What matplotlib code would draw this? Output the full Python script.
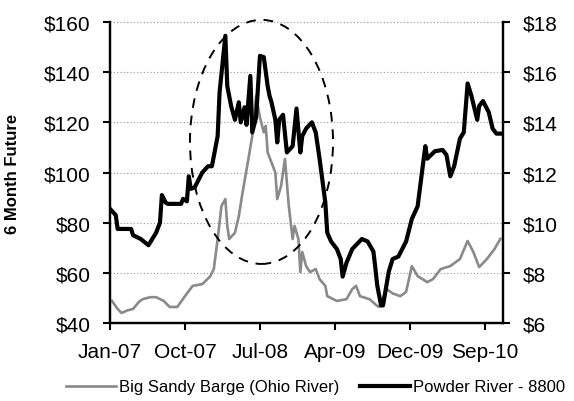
import matplotlib.pyplot as plt
from matplotlib.patches import Ellipse

# week index from Jan-07 (weekly price series)
tick_weeks = [0, 39, 78, 117, 156, 195]
tick_labels = ['Jan-07', 'Oct-07', 'Jul-08', 'Apr-09', 'Dec-09', 'Sep-10']

# Big Sandy Barge (Ohio River), $/ton, left axis
sandy_weeks = [1, 4, 6, 9, 12, 15, 17, 21, 24, 28, 31, 35, 39, 43, 48, 52, 54, 56, 58, 60,
               61, 62, 65, 67, 69, 72, 74, 76, 78, 80, 81, 82, 84, 86, 87, 89, 91, 93, 95,
               96, 98, 99, 100, 102, 104, 107, 109, 112, 113, 118, 123, 126, 128, 130, 135,
               139, 140, 144, 147, 151, 154, 157, 160, 165, 168, 172, 177, 182, 186, 189,
               192, 196, 200, 203]
sandy = [48.8, 45.6, 44.0, 45.0, 45.6, 48.4, 49.5, 50.3, 50.3, 48.8, 46.4, 46.4, 50.7, 54.8,
         55.5, 58.5, 61.5, 73.5, 86.7, 89.4, 78.7, 73.5, 76.0, 82.6, 92.2, 105.4, 114.6,
         130.5, 122.0, 116.0, 118.6, 108.0, 104.0, 100.0, 89.4, 94.7, 105.4, 86.7, 73.5,
         78.7, 73.5, 60.3, 68.3, 62.7, 60.3, 61.5, 57.5, 54.8, 50.7, 48.8, 49.5, 53.5,
         54.8, 50.7, 49.5, 46.8, 46.4, 53.5, 51.8, 50.7, 52.4, 62.7, 58.7, 56.3, 57.5,
         61.5, 62.7, 65.5, 72.7, 68.3, 62.3, 65.5, 69.5, 73.5]

# Powder River - 8800, $/ton, right axis
powder_weeks = [0, 3, 4, 11, 12, 16, 20, 22, 24, 26, 27, 29, 30, 37, 38, 40, 41, 42, 44, 48,
                51, 53, 56, 57, 60, 61, 63, 65, 67, 68, 70, 71, 73, 74, 76, 78, 80, 82, 83,
                84, 86, 87, 88, 90, 92, 95, 97, 99, 100, 102, 105, 107, 109, 112, 113, 115,
                118, 120, 121, 123, 126, 131, 134, 137, 138, 139, 141, 142, 145, 147, 150,
                152, 154, 157, 160, 162, 164, 165, 169, 173, 175, 177, 179, 182, 184, 186,
                188, 191, 192, 194, 197, 199, 201, 204]
powder = [10.55, 10.3, 9.75, 9.75, 9.5, 9.35, 9.1, 9.35, 9.6, 10.0, 11.1, 10.8, 10.75, 10.75,
          10.95, 10.85, 11.85, 11.35, 11.4, 12.0, 12.25, 12.25, 13.45, 15.2, 17.45, 15.45,
          14.65, 14.1, 14.8, 14.0, 14.6, 13.9, 15.85, 13.6, 14.2, 16.65, 16.6, 15.45, 15.05,
          14.8, 14.1, 13.2, 14.1, 14.3, 12.8, 13.05, 14.55, 12.8, 13.45, 13.75, 14.0, 13.6,
          12.55, 10.8, 9.6, 9.25, 8.95, 8.55, 7.85, 8.4, 8.95, 9.35, 9.25, 8.85, 8.2, 7.5,
          6.7, 6.7, 8.05, 8.55, 8.65, 8.95, 9.25, 10.15, 10.65, 11.85, 13.05, 12.55, 12.85,
          12.9, 12.7, 11.85, 12.25, 13.35, 13.6, 15.55, 15.05, 14.1, 14.65, 14.85, 14.4,
          13.75, 13.55, 13.55]

plt.rcParams['font.family'] = ['Liberation Sans', 'DejaVu Sans']

fig = plt.figure(figsize=(5.74, 4.02), dpi=100)
ax = fig.add_axes([0.1916, 0.194, 0.6847, 0.7488])
ax2 = ax.twinx()

line1, = ax.plot(sandy_weeks, sandy, color='#8a8a8a', lw=1.9,
                 label='Big Sandy Barge (Ohio River)')
line2, = ax2.plot(powder_weeks, powder, color='black', lw=3.0,
                  label='Powder River - 8800')

ax.set_xlim(0, 204.4)
ax.set_ylim(40, 160)
ax2.set_ylim(6, 18)

ax.set_yticks(range(40, 161, 20))
ax.set_yticklabels(['$%d' % v for v in range(40, 161, 20)])
ax2.set_yticks(range(6, 19, 2))
ax2.set_yticklabels(['$%d' % v for v in range(6, 19, 2)])
ax.set_xticks(tick_weeks)
ax.set_xticklabels(tick_labels)

for v in range(60, 161, 20):
    ax.axhline(v, color='#999999', lw=0.8, ls=(0, (1, 2)), zorder=0)

for a in (ax, ax2):
    a.spines['top'].set_visible(False)
    for s in ('left', 'right', 'bottom'):
        a.spines[s].set_linewidth(1.6)
    a.tick_params(direction='out', length=5, width=1.5, labelsize=15, pad=9)
ax.tick_params(axis='x', pad=9)

ax.set_ylabel('6 Month Future', fontsize=12, fontweight='bold')
ax.yaxis.set_label_coords(-0.23, 0.5)

# dashed ellipse highlighting the 2008 spike
ell = Ellipse((78.8, 112.2), 74.4, 97.3, fill=False, ec='black', lw=1.4,
              ls=(0, (5, 4)), clip_on=False, zorder=5)
ax.add_patch(ell)

fig.legend(handles=[line1, line2], loc='center', bbox_to_anchor=(0.55, 0.035),
           ncol=2, frameon=False, fontsize=12, handlelength=3.0,
           handletextpad=0.2, columnspacing=1.2)

fig.savefig('out.png', dpi=100)
